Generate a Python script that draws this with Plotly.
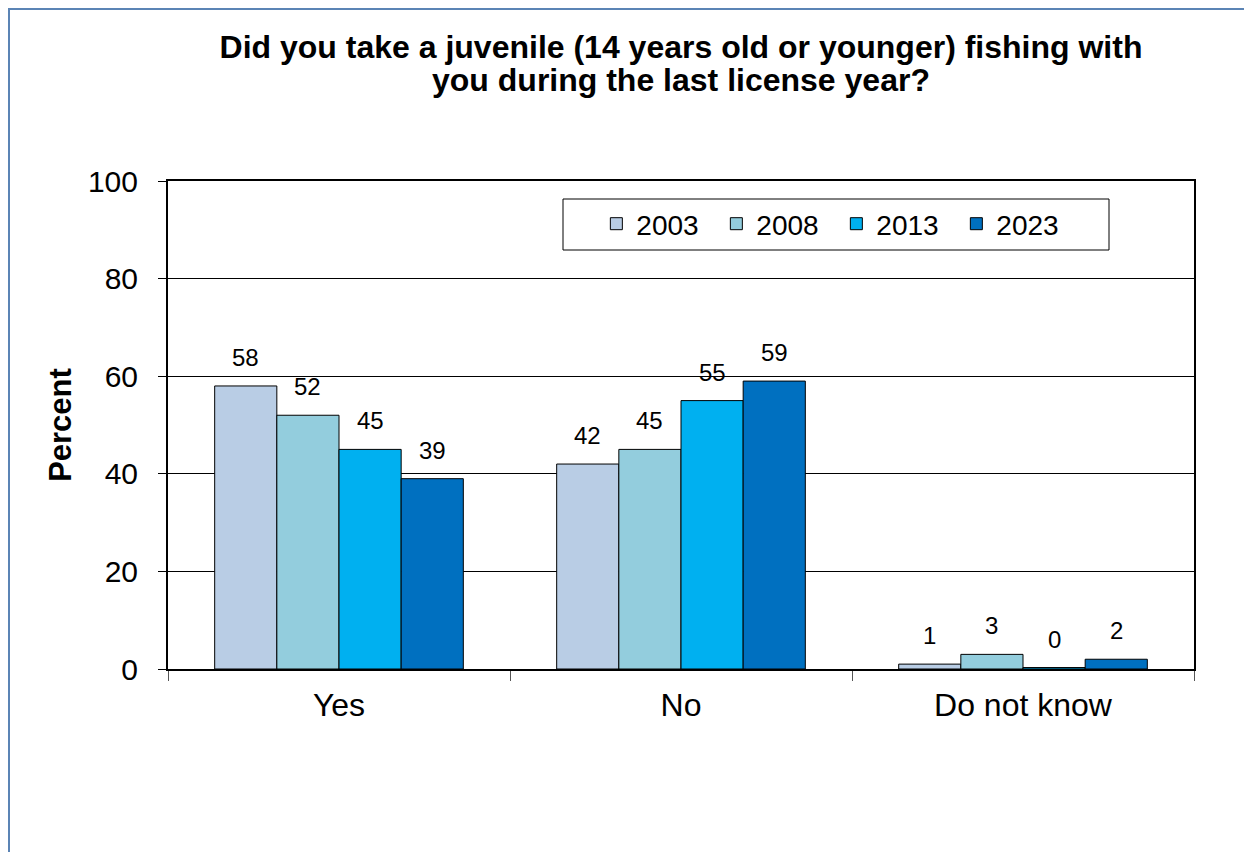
import plotly.graph_objects as go

categories = ["Yes", "No", "Do not know"]
years = ["2003", "2008", "2013", "2023"]
values_2003 = [58, 42, 1]
values_2008 = [52, 45, 3]
values_2013 = [45, 55, 0.3]
values_2023 = [39, 59, 2]
series = [values_2003, values_2008, values_2013, values_2023]
colors = ["#B9CDE5", "#93CDDD", "#00B0F0", "#0070C0"]
y_ticks = [0, 20, 40, 60, 80, 100]
title_line1 = "Did you take a juvenile (14 years old or younger) fishing with"
title_line2 = "you during the last license year?"

FONT = "Arial, Liberation Sans, sans-serif"
BARGAP = 0.273

fig = go.Figure()
for name, vals, col in zip(years, series, colors):
    fig.add_trace(go.Bar(
        name=name, x=categories, y=vals,
        marker=dict(color=col, line=dict(color="black", width=1)),
    ))

# value labels above bars, placed through the axis scales
n = len(series)
bw = (1 - BARGAP) / n
for j, vals in enumerate(series):
    for i, v in enumerate(vals):
        fig.add_annotation(
            x=i + (j - (n - 1) / 2) * bw, y=v, xref="x", yref="y",
            text=f"{v:.0f}", showarrow=False, yanchor="bottom", yshift=13,
            font=dict(family=FONT, size=24, color="black"),
        )

# page body has an 8px margin; work in figure pixels
OFF = 8
L, R, T, B = 168 - OFF, 1194 - OFF, 181 - OFF, 669 - OFF
W, H = 1252 - OFF, 852 - OFF
pw, ph = R - L, B - T

def px_to_paper_x(x):
    return (x - OFF - L) / pw

def px_to_paper_y(y):
    return (B - (y - OFF)) / ph

fig.update_layout(
    width=W, height=H,
    margin=dict(l=L, r=W - R, t=T, b=H - B, pad=0),
    paper_bgcolor="white", plot_bgcolor="white",
    barmode="group", bargap=BARGAP, bargroupgap=0,
    font=dict(family=FONT, color="black"),
    title=dict(
        text=f"<b>{title_line1}</b>",
        x=(L + R) / 2 / W, xanchor="center", y=1 - (47 - OFF) / H, yanchor="middle",
        font=dict(family=FONT, size=32, color="black"),
    ),
    legend=dict(
        orientation="h", x=px_to_paper_x(563), y=px_to_paper_y(199),
        xanchor="left", yanchor="top",
        bgcolor="rgba(0,0,0,0)", borderwidth=0,
        font=dict(family=FONT, size=28, color="black"),
        entrywidth=75, entrywidthmode="pixels", traceorder="normal",
        title=dict(text="&nbsp;&nbsp;&nbsp;", side="left", font=dict(size=28)),
    ),
    showlegend=True,
)
fig.add_annotation(
    text=f"<b>{title_line2}</b>", xref="paper", yref="paper",
    x=0.5, y=px_to_paper_y(80), xanchor="center", yanchor="middle", showarrow=False,
    font=dict(family=FONT, size=32, color="black"),
)
fig.update_yaxes(
    range=[0, 100], tickvals=y_ticks, ticks="outside", ticklen=8, tickcolor="black",
    tickfont=dict(family=FONT, size=30, color="black"), ticklabelstandoff=14,
    showgrid=True, gridcolor="black", gridwidth=1,
    showline=True, linecolor="black", linewidth=2, mirror=True,
    zeroline=False,
    title=dict(text="<b>Percent</b>", font=dict(family=FONT, size=31, color="black"), standoff=7),
)
fig.update_xaxes(
    ticks="outside", tickson="boundaries", ticklen=10, tickcolor="#555555", tickwidth=1,
    tickfont=dict(family=FONT, size=32, color="black"), ticklabelstandoff=7,
    showline=True, linecolor="black", linewidth=2, mirror=True,
    showgrid=False,
)
# legend box
fig.add_shape(
    type="rect", xref="paper", yref="paper",
    x0=px_to_paper_x(563), x1=px_to_paper_x(1109),
    y0=px_to_paper_y(250), y1=px_to_paper_y(199),
    line=dict(color="black", width=1), fillcolor="white", layer="above",
)
# outer frame
fig.add_shape(
    type="rect", xref="paper", yref="paper",
    x0=px_to_paper_x(9), x1=px_to_paper_x(1280),
    y0=px_to_paper_y(880), y1=px_to_paper_y(9),
    line=dict(color="#5B84B5", width=2), fillcolor="rgba(0,0,0,0)", layer="below",
)
fig.write_html("out.html")
